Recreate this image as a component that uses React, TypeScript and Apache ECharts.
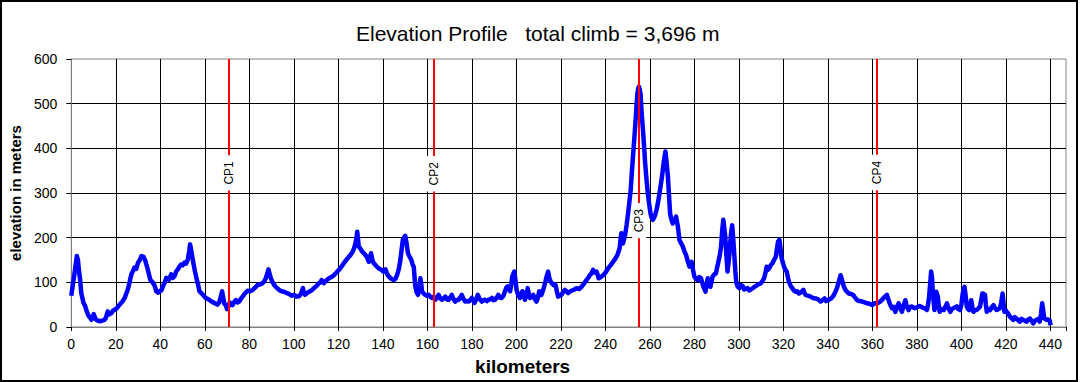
import React, { useEffect, useRef } from "react";
import * as echarts from "echarts";

// ---- data ----
const titleText = "Elevation Profile\u00a0\u00a0\u00a0total climb = 3,696 m";
const xAxisName = "kilometers";
const yAxisName = "elevation in meters";

// [km, elevation m]
const profileSeg1: [number, number][] = [
  [0, 70], [0.7, 95], [1.5, 121], [2, 140], [2.5, 159], [3, 150], [3.4, 129], [4, 105], [4.5, 76], [5.5, 54],
  [6.2, 48], [6.7, 39], [7.3, 30], [7.9, 24], [8.4, 22], [9, 16], [9.6, 20], [10.1, 29], [10.6, 22], [11.2, 16],
  [12, 14], [12.7, 13], [13.8, 14], [14.9, 16], [15.5, 20], [16.4, 35], [17, 28], [18, 31], [18.7, 36], [19.5, 39],
  [20.5, 42], [21.7, 50], [23, 57], [24, 65], [25.4, 84], [26.2, 100], [27, 118], [27.7, 125], [28.4, 133], [29.2, 130],
  [30, 144], [30.8, 150], [31.5, 159], [32.5, 157], [33.3, 148], [34, 136], [35.5, 106], [36.7, 99], [37.5, 92], [38.2, 80],
  [39, 77], [39.7, 80], [40.5, 82], [41.2, 91], [42, 100], [42.7, 110], [43.3, 108], [43.9, 106], [44.9, 118], [45.6, 110],
  [46.4, 114], [47.2, 125], [47.9, 129], [48.6, 135], [49.4, 140], [50.1, 138], [50.9, 144], [51.6, 142], [52.4, 151], [53, 170],
  [53.4, 185], [53.9, 172], [54.3, 159], [55.4, 129], [56.4, 106], [57, 95], [57.6, 80], [59, 73], [60.4, 65], [61.2, 63],
  [62, 61], [63, 57], [64.2, 54], [65, 52], [65.7, 50], [66.5, 55], [67.3, 70], [67.8, 80], [68.3, 65], [68.8, 52],
  [69.5, 48], [70, 40], [70.6, 45], [71.2, 55], [71.8, 50], [72.5, 49],
];

const profileSeg2: [number, number][] = [
  [73.2, 56], [74, 60], [74.7, 55], [75.5, 57], [76.3, 64], [77, 68], [78, 75], [79.2, 81], [80.3, 80], [81.5, 83],
  [82.6, 88], [83.7, 94], [84.8, 95], [85.9, 98], [86.7, 102], [87.4, 109], [88, 118], [88.6, 129], [89.2, 118], [89.7, 109],
  [90.5, 100], [91.2, 94], [92.3, 88], [93.4, 83], [94.5, 80], [95.6, 79], [96.8, 76], [97.9, 74], [99, 70], [100.1, 72],
  [101.2, 68], [102.4, 69], [103.3, 75], [104.1, 87], [104.6, 76], [105, 72], [106, 76], [106.8, 79], [108, 82], [109.1, 87],
  [110.2, 92], [111.3, 98], [112, 100], [112.5, 105], [113.5, 98], [114.6, 104], [115.8, 109], [117, 112], [118, 116], [119.2, 122],
  [120.3, 128], [121.4, 135], [122.5, 143], [123.6, 150], [124.7, 157], [125.6, 162], [126.5, 169], [127.2, 178], [127.7, 187], [128.2, 200],
  [128.5, 213], [128.9, 195], [129.2, 180], [130, 175], [130.7, 169], [131.5, 165], [132.2, 161], [133, 155], [133.7, 146], [134.2, 155],
  [134.7, 165], [135.3, 150], [135.9, 143], [137, 137], [138.2, 131], [139.3, 128], [140.4, 124], [141.2, 129], [142, 118], [142.7, 113],
  [143.8, 108], [144.9, 105], [145.7, 108], [146.4, 116], [147.2, 130], [147.9, 150], [148.5, 175], [149, 195], [149.5, 200], [150.1, 204],
];

const profileSeg3: [number, number][] = [
  [150.6, 190], [151.3, 165], [152, 158], [152.8, 150], [153.4, 140], [153.9, 135], [154.3, 110], [154.6, 91], [155.2, 78], [155.8, 72],
  [156.4, 85], [156.9, 109], [157.3, 95], [157.6, 80], [158.3, 75], [159.1, 72], [159.8, 70], [160.6, 72], [161.3, 68], [162.1, 65],
  [162.8, 68], [163.6, 61], [164.3, 66], [165.1, 72], [165.8, 64], [166.6, 61], [167.3, 64], [168.1, 68], [168.8, 62], [169.5, 61],
  [170.3, 66], [171, 72], [171.8, 62], [172.5, 57], [173.2, 60], [174, 61], [174.8, 66], [175.5, 72], [176.2, 63], [177, 57],
  [177.8, 58], [178.5, 57], [179.2, 60], [180, 65], [180.6, 60], [181.2, 54], [182, 62], [182.7, 72], [183.5, 63], [184.5, 57],
  [185.2, 60], [186, 61], [186.7, 58], [187.5, 61], [188.2, 62], [189, 65], [189.7, 60], [190.4, 61], [191.2, 66], [191.9, 72],
  [192.6, 66], [193.4, 65], [194.2, 70], [194.9, 80], [195.5, 88], [196.1, 91], [196.7, 85], [197.2, 80], [197.7, 95], [198.2, 113],
  [198.7, 120], [199.1, 124], [199.6, 105], [200.1, 83], [200.8, 72], [201.6, 65], [202.2, 72], [202.7, 80], [203.3, 70], [203.9, 61],
  [204.5, 72], [205.1, 87], [205.6, 75], [206.1, 65], [206.8, 68], [207.6, 72], [208.3, 62], [209.1, 57], [209.7, 66], [210.3, 80],
  [210.8, 76], [211.3, 72], [212, 82], [212.5, 91], [213, 100], [213.6, 113], [214.3, 124], [214.8, 110], [215.4, 102], [216, 98],
  [216.6, 94], [217.1, 96], [217.6, 94], [218.2, 80], [218.8, 68], [219.5, 70], [220.3, 72], [221, 78], [221.8, 83], [222.5, 80],
  [223.3, 76], [224.3, 80], [225.5, 83],
];

const profileSeg4: [number, number][] = [
  [226.2, 84], [227, 87], [228.2, 85], [229.3, 90], [230.4, 97], [231.5, 105], [232.3, 110], [233, 116], [233.8, 120], [234.5, 128],
  [235.2, 122], [236, 124], [236.5, 118], [237, 109], [238, 112], [239, 116], [240.1, 122], [241.2, 131], [242.3, 138], [243.5, 146],
  [244.5, 153], [245.4, 161], [246, 170], [246.4, 176], [246.8, 195], [247.2, 210], [247.6, 195], [247.9, 187], [248.5, 198], [249, 210],
  [249.6, 230], [250.2, 254], [250.8, 280], [251.4, 307], [251.9, 345], [252.4, 381], [253, 420], [253.5, 456], [254, 495], [254.4, 523],
  [254.8, 535], [255.1, 538], [255.5, 530], [255.8, 523], [256.3, 480], [256.9, 441], [257.4, 405], [257.9, 366], [258.5, 330], [259.1, 299],
  [259.7, 275], [260.3, 254], [260.8, 245], [261.4, 240], [261.9, 245], [262.4, 251], [263, 262], [263.6, 277], [264.2, 295], [264.8, 314],
  [265.4, 335], [266, 359], [266.5, 378], [267, 393], [267.5, 370], [268.1, 337], [268.6, 295], [269.1, 254], [269.7, 240], [270.3, 232],
  [271, 238], [271.8, 247], [272.2, 235], [272.6, 225], [273.3, 195], [274, 188], [274.8, 180], [275.5, 170], [276.3, 161], [277, 148],
  [277.8, 135], [278.3, 140], [278.8, 146], [279.4, 128], [280, 113], [280.7, 108], [281.5, 105], [282.2, 112], [283, 109], [283.6, 98],
  [284.1, 90], [284.6, 84], [285, 79], [285.5, 95], [286, 109], [286.6, 98], [287.2, 90], [287.7, 102], [288.2, 113], [289, 118],
  [289.7, 120], [290.3, 135], [290.8, 146], [291.4, 160], [292, 180], [292.5, 215], [293, 240], [293.5, 220], [293.9, 202], [294.4, 160],
  [294.9, 124], [295.5, 150], [296.1, 187], [296.5, 210], [297, 228], [297.5, 195], [297.9, 165], [298.4, 125], [298.9, 98], [299.5, 90],
  [300.2, 87], [300.9, 94], [301.7, 92], [302.4, 84],
];

const profileSeg5: [number, number][] = [
  [303.2, 86], [303.9, 87], [304.6, 82], [305.4, 84], [306.5, 88], [307.6, 92], [308.7, 95], [309.9, 98], [310.6, 103], [311.3, 109],
  [311.9, 120], [312.5, 135], [313, 128], [313.6, 131], [314.3, 138], [315.1, 143], [315.8, 150], [316.6, 157], [317.1, 175], [317.6, 191],
  [318.2, 195], [318.6, 180], [319.1, 157], [319.7, 145], [320.3, 135], [320.9, 128], [321.5, 124], [322, 112], [322.5, 101], [323.2, 93],
  [324, 87], [324.7, 82], [325.5, 79], [326.2, 80], [327, 75], [328, 78], [329, 83], [329.5, 76], [330, 72], [331, 70],
  [332.2, 68], [333.3, 65], [334.5, 64], [335.6, 62], [336.7, 57], [337.6, 60], [338.5, 64], [339.2, 58], [340, 60], [340.7, 62],
  [341.5, 64], [342.5, 70], [343.4, 79], [344, 86], [344.5, 94], [345.1, 105], [345.7, 116], [346.2, 108], [346.6, 101], [347.2, 90],
  [347.9, 83], [348.6, 79], [349.4, 75], [350.3, 74], [351.3, 72], [352.2, 66], [353.1, 60], [354.2, 58], [355.4, 57], [356.5, 55],
  [357.6, 53], [358.7, 52], [359.9, 49], [361, 53], [362.1, 53], [362.8, 55], [363.6, 57], [364.7, 63], [365.8, 69], [366.5, 72],
  [367.3, 60], [368, 50], [368.8, 42], [369.5, 45], [370.3, 34], [371, 45], [371.8, 53], [372.5, 42], [373.3, 34], [374, 48],
  [374.8, 60], [375.5, 45], [376.3, 38],
];

const profileSeg6: [number, number][] = [
  [377, 45], [377.8, 46], [378.9, 42], [380, 44], [381.2, 47], [382.3, 44], [383.4, 42], [384.5, 38], [385, 50], [385.5, 68],
  [386, 100], [386.4, 124], [386.8, 110], [387.2, 75], [387.9, 38], [388.3, 55], [388.7, 79], [389.4, 68], [389.8, 50], [390.2, 34],
  [391.1, 40], [392, 38], [392.8, 45], [393.5, 53], [394.2, 42], [395, 34], [395.7, 40], [396.4, 42], [397.2, 44], [397.9, 46],
  [398.7, 40], [399.4, 38], [400, 50], [400.5, 72], [401, 85], [401.4, 90], [401.9, 70], [402.4, 46], [403, 40], [403.5, 38],
  [404, 48], [404.4, 60], [404.9, 45], [405.4, 34], [406.2, 38], [406.9, 38], [407.7, 42], [408.4, 46], [408.9, 60], [409.4, 75],
  [410, 74], [410.6, 72], [411, 50], [411.4, 34], [412.2, 40], [412.9, 38], [413.7, 45], [414.4, 49], [415.1, 42], [415.8, 38],
  [416.6, 40], [417.3, 42], [417.9, 55], [418.5, 75], [418.9, 55], [419.3, 34], [419.8, 38], [420.3, 34], [421, 30], [421.8, 23],
  [422.5, 20], [423.3, 16], [424, 22], [424.8, 19], [425.5, 15], [426.3, 12], [427, 18], [427.8, 16], [428.5, 14], [429.3, 12],
  [430, 17], [430.8, 19], [431.5, 14], [432.3, 8], [433, 14], [433.8, 16], [434.5, 18], [435.2, 12], [435.8, 30], [436.3, 53],
  [436.8, 35], [437.2, 19], [437.7, 18], [438.2, 16], [438.7, 17], [439.2, 16], [439.7, 14], [440.1, 4],
];

const checkpointNames = ["CP1", "CP2", "CP3", "CP4"];
const checkpointKm = [70.7, 162.8, 255.2, 362.1];
const checkpointLabelElev = [345, 343, 238, 346];

const xMin = 0;
const xMax = 447;
const xStep = 20;
const yMin = 0;
const yMax = 600;
const yStep = 100;

const FONT = "'Liberation Sans', Arial, Helvetica, sans-serif";

export default function App() {
  const ref = useRef<HTMLDivElement>(null);

  useEffect(() => {
    if (!ref.current) return;
    const chart = echarts.init(ref.current, undefined, { renderer: "svg" });
    const profile = [
      ...profileSeg1,
      ...profileSeg2,
      ...profileSeg3,
      ...profileSeg4,
      ...profileSeg5,
      ...profileSeg6,
    ];
    const cpData = checkpointNames.map((n, i) => ({
      name: n,
      value: [checkpointKm[i], checkpointLabelElev[i]],
    }));

    chart.setOption({
      animation: false,
      backgroundColor: "#ffffff",
      textStyle: { fontFamily: FONT },
      title: {
        text: titleText,
        left: 351,
        top: 18,
        textStyle: { fontFamily: FONT, fontSize: 21, fontWeight: "normal", color: "#000" },
      },
      grid: {
        left: 68,
        right: 14,
        top: 59,
        bottom: 55,
        show: true,
        borderColor: "#808080",
        borderWidth: 1,
        backgroundColor: "transparent",
      },
      graphic: [
        {
          type: "rect",
          shape: { x: 1, y: 1, width: 1076, height: 380 },
          style: { fill: "none", stroke: "#000", lineWidth: 2 },
          silent: true,
          z: 100,
        },
      ],
      xAxis: {
        type: "value",
        min: xMin,
        max: xMax,
        interval: xStep,
        name: xAxisName,
        nameLocation: "middle",
        nameGap: 30,
        nameTextStyle: {
          fontFamily: FONT,
          fontSize: 19,
          fontWeight: "bold",
          color: "#000",
          padding: [0, 92, 0, 0],
        },
        axisLine: { show: true, lineStyle: { color: "#808080", width: 1 } },
        axisTick: { show: true, length: 4, lineStyle: { color: "#000" } },
        axisLabel: {
          fontFamily: FONT,
          fontSize: 14,
          color: "#000",
          margin: 10,
          formatter: (v: number) => (v % xStep === 0 ? String(v) : ""),
        },
        splitLine: {
          show: true,
          showMinLine: false,
          showMaxLine: false,
          lineStyle: { color: "#000", width: 1 },
        },
      },
      yAxis: {
        type: "value",
        min: yMin,
        max: yMax,
        interval: yStep,
        name: yAxisName,
        nameLocation: "middle",
        nameGap: 47,
        nameTextStyle: { fontFamily: FONT, fontSize: 15, fontWeight: "bold", color: "#000" },
        axisLine: { show: true, lineStyle: { color: "#808080", width: 1 } },
        axisTick: { show: true, length: 5, lineStyle: { color: "#000" } },
        axisLabel: { fontFamily: FONT, fontSize: 14, color: "#000", margin: 14 },
        splitLine: {
          show: true,
          showMinLine: false,
          showMaxLine: false,
          lineStyle: { color: "#000", width: 1 },
        },
      },
      series: [
        {
          type: "line",
          data: profile,
          showSymbol: false,
          symbol: "none",
          lineStyle: { color: "#0000ff", width: 4.5, join: "round" },
          silent: true,
          z: 2,
        },
        {
          type: "scatter",
          data: cpData,
          symbolSize: 0.1,
          itemStyle: { color: "#ff0000", opacity: 1 },
          silent: true,
          z: 5,
          label: {
            show: true,
            position: "inside",
            rotate: 90,
            formatter: "{b}",
            fontFamily: FONT,
            fontSize: 12,
            color: "#000",
            opacity: 1,
            backgroundColor: "#ffffff",
            padding: [1, 6, 1, 6],
          },
          markLine: {
            silent: true,
            symbol: "none",
            label: { show: false },
            lineStyle: { color: "#ff0000", width: 2, type: "solid", opacity: 1 },
            data: checkpointKm.map((k) => ({ xAxis: k })),
            z: 4,
          },
        },
      ],
    });
    return () => chart.dispose();
  }, []);

  return (
    <div
      ref={ref}
      style={{ position: "absolute", left: 0, top: 0, width: 1080, height: 382, background: "#fff" }}
    />
  );
}
